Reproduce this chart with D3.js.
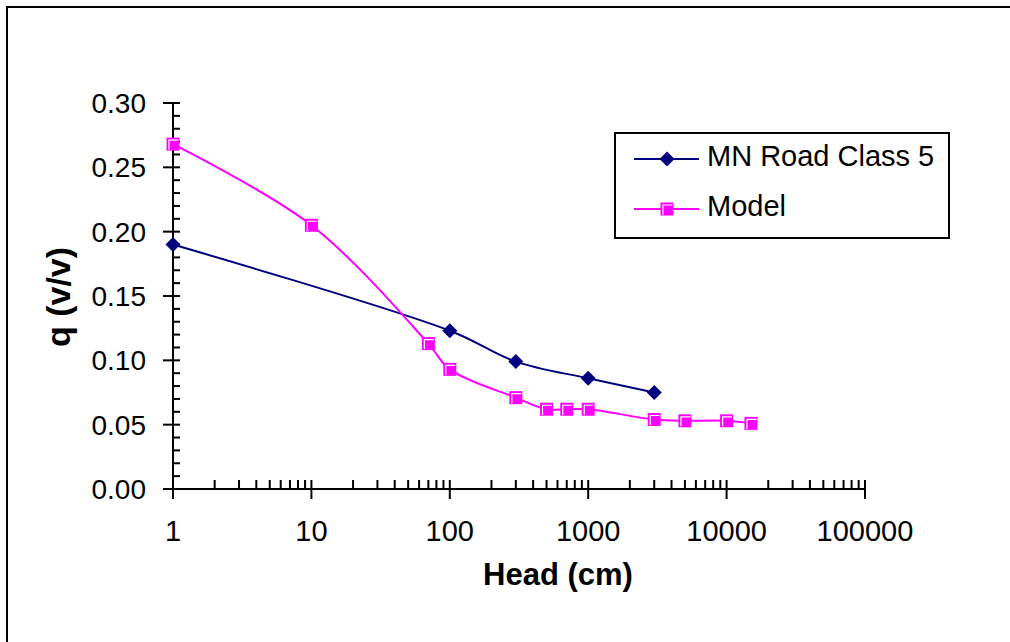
<!DOCTYPE html>
<html>
<head>
<meta charset="utf-8">
<script src="https://cdn.jsdelivr.net/npm/d3@7"></script>
<style>
  html, body { margin: 0; padding: 0; background: #fff; overflow: hidden; }
  svg { display: block; }
  text { font-family: Arial, 'Liberation Sans', sans-serif; fill: #000; }
</style>
</head>
<body>
<script>
// data
const seriesNames = ['MN Road Class 5', 'Model']
const mnHead = [1, 100, 300, 1000, 3000]
const mnTheta = [0.19, 0.123, 0.099, 0.086, 0.075]
const modelHead = [1, 10, 70, 100, 300, 500, 700, 1000, 3000, 5000, 10000, 15000]
const modelTheta = [0.268, 0.205, 0.113, 0.093, 0.071, 0.062, 0.062, 0.062, 0.054, 0.053, 0.053, 0.051]
const xTicks = [1, 10, 100, 1000, 10000, 100000]
const yTicks = [0, 0.05, 0.1, 0.15, 0.2, 0.25, 0.3]

const width = 1010
const height = 642
const navy = '#000080'
const magenta = '#FF00FF'

const svg = d3.select(document.body)
  .append('svg')
  .attr('width', width)
  .attr('height', height)

// outer chart border: only top and left edges are inside the picture
svg.append('path')
  .attr('d', `M7,${height}V7H${width}`)
  .attr('fill', 'none')
  .attr('stroke', '#000')
  .attr('stroke-width', 2)

const x = d3.scaleLog().domain([1, 100000]).range([173, 865])
const y = d3.scaleLinear().domain([0, 0.3]).range([489, 103])

// y axis line and ticks
const yAxis = svg.append('g')
yAxis.append('line')
  .attr('x1', x(1)).attr('x2', x(1))
  .attr('y1', y(0)).attr('y2', y(0.3))
  .attr('stroke', '#000').attr('stroke-width', 2)

const yMinor = d3.range(0, 0.3001, 0.01).filter((v) => Math.round(v * 100) % 5 !== 0)
yAxis.selectAll('.ymin')
  .data(yMinor)
  .enter()
  .append('line')
  .attr('x1', x(1)).attr('x2', x(1) + 7)
  .attr('y1', (d) => y(d)).attr('y2', (d) => y(d))
  .attr('stroke', '#000').attr('stroke-width', 2)

yAxis.selectAll('.ymaj')
  .data(yTicks)
  .enter()
  .append('line')
  .attr('x1', x(1) - 10).attr('x2', x(1) + 7)
  .attr('y1', (d) => y(d)).attr('y2', (d) => y(d))
  .attr('stroke', '#000').attr('stroke-width', 2)

yAxis.selectAll('.ylab')
  .data(yTicks)
  .enter()
  .append('text')
  .attr('x', 146)
  .attr('y', (d) => y(d) + 10)
  .attr('text-anchor', 'end')
  .attr('font-size', 28)
  .text((d) => d.toFixed(2))

// x axis line and ticks
const xAxis = svg.append('g')
xAxis.append('line')
  .attr('x1', x(1)).attr('x2', x(100000))
  .attr('y1', y(0)).attr('y2', y(0))
  .attr('stroke', '#000').attr('stroke-width', 2)

const xMinor = []
for (let p = 0; p < 5; p++) {
  for (let k = 2; k <= 9; k++) xMinor.push(k * Math.pow(10, p))
}
xAxis.selectAll('.xmin')
  .data(xMinor)
  .enter()
  .append('line')
  .attr('x1', (d) => x(d)).attr('x2', (d) => x(d))
  .attr('y1', y(0) - 9).attr('y2', y(0))
  .attr('stroke', '#000').attr('stroke-width', 2)

xAxis.selectAll('.xmaj')
  .data(xTicks)
  .enter()
  .append('line')
  .attr('x1', (d) => x(d)).attr('x2', (d) => x(d))
  .attr('y1', y(0) - 9).attr('y2', y(0) + 10)
  .attr('stroke', '#000').attr('stroke-width', 2)

xAxis.selectAll('.xlab')
  .data(xTicks)
  .enter()
  .append('text')
  .attr('x', (d) => x(d))
  .attr('y', 541)
  .attr('text-anchor', 'middle')
  .attr('font-size', 29)
  .text((d) => d)

// axis titles
svg.append('text')
  .attr('x', 558).attr('y', 585)
  .attr('text-anchor', 'middle')
  .attr('font-size', 31)
  .attr('font-weight', 'bold')
  .text('Head (cm)')

svg.append('text')
  .attr('transform', 'translate(70,297) rotate(-90)')
  .attr('text-anchor', 'middle')
  .attr('font-size', 34)
  .attr('font-weight', 'bold')
  .text('q (v/v)')

// series lines (smoothed like the spreadsheet)
const line = d3.line()
  .x((d) => x(d[0]))
  .y((d) => y(d[1]))
  .curve(d3.curveCatmullRom.alpha(0.5))

const mnData = mnHead.map((h, i) => [h, mnTheta[i]])
const modelData = modelHead.map((h, i) => [h, modelTheta[i]])

svg.append('path')
  .datum(mnData)
  .attr('d', line)
  .attr('fill', 'none')
  .attr('stroke', navy)
  .attr('stroke-width', 2)

svg.append('path')
  .datum(modelData)
  .attr('d', line)
  .attr('fill', 'none')
  .attr('stroke', magenta)
  .attr('stroke-width', 2)

// markers
function diamond(g) {
  g.append('path')
    .attr('d', 'M0,-7.5L7.5,0L0,7.5L-7.5,0Z')
    .attr('fill', navy)
}

function square(g) {
  g.append('rect')
    .attr('x', -6.5).attr('y', -6.5)
    .attr('width', 13).attr('height', 13)
    .attr('fill', magenta)
  g.append('path')
    .attr('d', 'M-4,5.5V-4H5.5')
    .attr('fill', 'none')
    .attr('stroke', '#fff')
    .attr('stroke-width', 1.2)
}

svg.selectAll('.mn-pt')
  .data(mnData)
  .enter()
  .append('g')
  .attr('transform', (d) => `translate(${x(d[0])},${y(d[1])})`)
  .each(function () { diamond(d3.select(this)) })

svg.selectAll('.model-pt')
  .data(modelData)
  .enter()
  .append('g')
  .attr('transform', (d) => `translate(${x(d[0])},${y(d[1])})`)
  .each(function () { square(d3.select(this)) })

// legend
const legend = svg.append('g')
legend.append('rect')
  .attr('x', 615).attr('y', 133)
  .attr('width', 334).attr('height', 105)
  .attr('fill', '#fff')
  .attr('stroke', '#000')
  .attr('stroke-width', 2)

const legendRows = legend.selectAll('.row')
  .data(seriesNames)
  .enter()
  .append('g')
  .attr('transform', (d, i) => `translate(0,${159 + i * 50})`)

legendRows.append('line')
  .attr('x1', 634).attr('x2', 699)
  .attr('y1', 0).attr('y2', 0)
  .attr('stroke', (d, i) => (i === 0 ? navy : magenta))
  .attr('stroke-width', 2)

legendRows.append('g')
  .attr('transform', 'translate(667,0)')
  .each(function (d, i) {
    if (i === 0) diamond(d3.select(this))
    else square(d3.select(this))
  })

legendRows.append('text')
  .attr('x', 707)
  .attr('y', 7)
  .attr('font-size', 29)
  .text((d) => d)
</script>
</body>
</html>
